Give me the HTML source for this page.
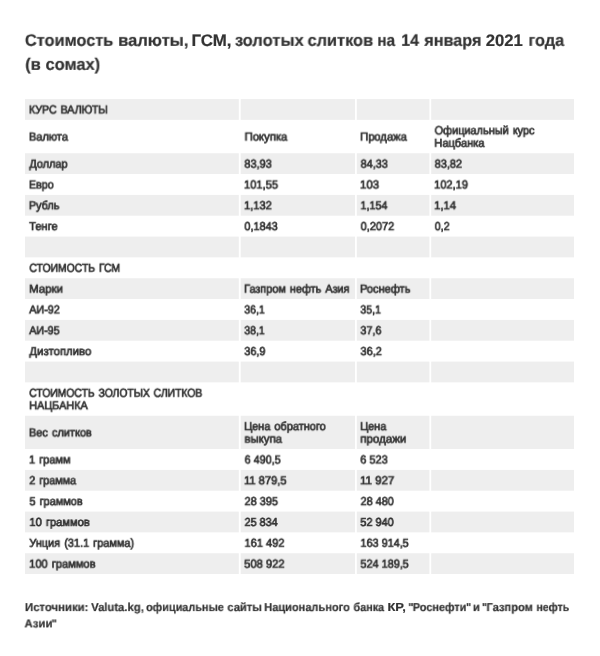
<!DOCTYPE html>
<html lang="ru"><head><meta charset="utf-8"><title>Стоимость валюты, ГСМ, золотых слитков</title>
<style>
html,body{margin:0;padding:0;background:#fff;}
body{width:600px;height:656px;position:relative;overflow:hidden;font-family:"Liberation Sans",sans-serif;color:#333;}
.bg{position:absolute;left:0;top:0;}
.t,.h,.f{position:absolute;left:0;top:0;white-space:nowrap;transform-origin:0 50%;will-change:transform;color:#333;text-rendering:geometricPrecision;}
.t{font-size:11.67px;line-height:12.5px;word-spacing:1.1px;-webkit-text-stroke:0.7px #333;}
.n{word-spacing:0px;}
.h{font-size:16.67px;line-height:20px;font-weight:bold;-webkit-text-stroke:0.2px #333;}
.f{font-size:11.67px;line-height:14px;font-weight:bold;-webkit-text-stroke:0.2px #333;}
</style></head><body>
<svg class="bg" width="600" height="656" viewBox="0 0 600 656"><g fill="#eeeeee"><rect x="25.00" y="99.10" width="213.80" height="20.78"/><rect x="240.70" y="99.10" width="114.30" height="20.78"/><rect x="356.80" y="99.10" width="72.60" height="20.78"/><rect x="431.20" y="99.10" width="142.80" height="20.78"/><rect x="25.00" y="153.27" width="213.80" height="20.78"/><rect x="240.70" y="153.27" width="114.30" height="20.78"/><rect x="356.80" y="153.27" width="72.60" height="20.78"/><rect x="431.20" y="153.27" width="142.80" height="20.78"/><rect x="25.00" y="194.93" width="213.80" height="20.78"/><rect x="240.70" y="194.93" width="114.30" height="20.78"/><rect x="356.80" y="194.93" width="72.60" height="20.78"/><rect x="431.20" y="194.93" width="142.80" height="20.78"/><rect x="25.00" y="236.60" width="213.80" height="20.78"/><rect x="240.70" y="236.60" width="114.30" height="20.78"/><rect x="356.80" y="236.60" width="72.60" height="20.78"/><rect x="431.20" y="236.60" width="142.80" height="20.78"/><rect x="25.00" y="278.27" width="213.80" height="20.78"/><rect x="240.70" y="278.27" width="114.30" height="20.78"/><rect x="356.80" y="278.27" width="72.60" height="20.78"/><rect x="431.20" y="278.27" width="142.80" height="20.78"/><rect x="25.00" y="319.93" width="213.80" height="20.78"/><rect x="240.70" y="319.93" width="114.30" height="20.78"/><rect x="356.80" y="319.93" width="72.60" height="20.78"/><rect x="431.20" y="319.93" width="142.80" height="20.78"/><rect x="25.00" y="361.60" width="213.80" height="20.78"/><rect x="240.70" y="361.60" width="114.30" height="20.78"/><rect x="356.80" y="361.60" width="72.60" height="20.78"/><rect x="431.20" y="361.60" width="142.80" height="20.78"/><rect x="25.00" y="415.77" width="213.80" height="33.28"/><rect x="240.70" y="415.77" width="114.30" height="33.28"/><rect x="356.80" y="415.77" width="72.60" height="33.28"/><rect x="431.20" y="415.77" width="142.80" height="33.28"/><rect x="25.00" y="469.93" width="213.80" height="20.78"/><rect x="240.70" y="469.93" width="114.30" height="20.78"/><rect x="356.80" y="469.93" width="72.60" height="20.78"/><rect x="431.20" y="469.93" width="142.80" height="20.78"/><rect x="25.00" y="511.60" width="213.80" height="20.78"/><rect x="240.70" y="511.60" width="114.30" height="20.78"/><rect x="356.80" y="511.60" width="72.60" height="20.78"/><rect x="431.20" y="511.60" width="142.80" height="20.78"/><rect x="25.00" y="553.27" width="213.80" height="20.78"/><rect x="240.70" y="553.27" width="114.30" height="20.78"/><rect x="356.80" y="553.27" width="72.60" height="20.78"/><rect x="431.20" y="553.27" width="142.80" height="20.78"/></g></svg>
<div class="t" style="transform:translate(28.90px,104.47px) scaleX(0.9126)">КУРС ВАЛЮТЫ</div>
<div class="t" style="transform:translate(28.92px,131.55px) scaleX(0.9453)">Валюта</div>
<div class="t" style="transform:translate(29.37px,158.63px) scaleX(0.9359)">Доллар</div>
<div class="t" style="transform:translate(28.94px,179.47px) scaleX(0.9160)">Евро</div>
<div class="t" style="transform:translate(28.87px,200.30px) scaleX(0.9291)">Рубль</div>
<div class="t" style="transform:translate(29.15px,221.13px) scaleX(0.9480)">Тенге</div>
<div class="t" style="transform:translate(29.38px,262.80px) scaleX(0.8918)">СТОИМОСТЬ ГСМ</div>
<div class="t" style="transform:translate(29.14px,283.63px) scaleX(0.9804)">Марки</div>
<div class="t" style="transform:translate(29.22px,304.47px) scaleX(0.9263)">АИ-92</div>
<div class="t" style="transform:translate(29.24px,325.30px) scaleX(0.9193)">АИ-95</div>
<div class="t" style="transform:translate(29.36px,346.13px) scaleX(0.9718)">Дизтопливо</div>
<div class="t" style="transform:translate(29.23px,387.80px) scaleX(0.8882)">СТОИМОСТЬ ЗОЛОТЫХ СЛИТКОВ</div>
<div class="t" style="transform:translate(29.19px,400.30px) scaleX(0.9286)">НАЦБАНКА</div>
<div class="t" style="transform:translate(28.96px,427.38px) scaleX(0.9407)">Вес слитков</div>
<div class="t" style="transform:translate(29.02px,454.47px) scaleX(0.9426)">1 грамм</div>
<div class="t" style="transform:translate(29.32px,475.30px) scaleX(0.9256)">2 грамма</div>
<div class="t" style="transform:translate(29.49px,496.13px) scaleX(0.9377)">5 граммов</div>
<div class="t" style="transform:translate(29.40px,516.97px) scaleX(0.9544)">10 граммов</div>
<div class="t" style="transform:translate(29.29px,537.80px) scaleX(0.9388)">Унция (31.1 грамма)</div>
<div class="t" style="transform:translate(29.13px,558.63px) scaleX(0.9527)">100 граммов</div>
<div class="t" style="transform:translate(244.56px,131.55px) scaleX(0.9712)">Покупка</div>
<div class="t n" style="transform:translate(244.41px,158.63px) scaleX(0.9333)">83,93</div>
<div class="t n" style="transform:translate(243.98px,179.47px) scaleX(0.9535)">101,55</div>
<div class="t n" style="transform:translate(244.10px,200.30px) scaleX(0.9463)">1,132</div>
<div class="t n" style="transform:translate(244.44px,221.13px) scaleX(0.9308)">0,1843</div>
<div class="t" style="transform:translate(244.11px,283.63px) scaleX(0.9333)">Газпром нефть Азия</div>
<div class="t n" style="transform:translate(244.29px,304.47px) scaleX(0.8989)">36,1</div>
<div class="t n" style="transform:translate(244.33px,325.30px) scaleX(0.8942)">38,1</div>
<div class="t n" style="transform:translate(244.35px,346.13px) scaleX(0.9254)">36,9</div>
<div class="t" style="transform:translate(244.14px,421.13px) scaleX(0.9373)">Цена обратного</div>
<div class="t" style="transform:translate(244.52px,433.63px) scaleX(0.9717)">выкупа</div>
<div class="t n" style="transform:translate(244.63px,454.47px) scaleX(0.9245)">6 490,5</div>
<div class="t n" style="transform:translate(244.05px,475.30px) scaleX(0.9560)">11 879,5</div>
<div class="t n" style="transform:translate(244.56px,496.13px) scaleX(0.9339)">28 395</div>
<div class="t n" style="transform:translate(244.58px,516.97px) scaleX(0.9236)">25 834</div>
<div class="t n" style="transform:translate(244.52px,537.80px) scaleX(0.9452)">161 492</div>
<div class="t n" style="transform:translate(244.19px,558.63px) scaleX(0.9552)">508 922</div>
<div class="t" style="transform:translate(360.12px,131.55px) scaleX(0.9604)">Продажа</div>
<div class="t n" style="transform:translate(360.65px,158.63px) scaleX(0.9270)">84,33</div>
<div class="t n" style="transform:translate(359.94px,179.47px) scaleX(0.9808)">103</div>
<div class="t n" style="transform:translate(360.50px,200.30px) scaleX(0.9233)">1,154</div>
<div class="t n" style="transform:translate(360.67px,221.13px) scaleX(0.9385)">0,2072</div>
<div class="t" style="transform:translate(360.02px,283.63px) scaleX(0.9466)">Роснефть</div>
<div class="t n" style="transform:translate(360.36px,304.47px) scaleX(0.9027)">35,1</div>
<div class="t n" style="transform:translate(360.41px,325.30px) scaleX(0.9241)">37,6</div>
<div class="t n" style="transform:translate(360.50px,346.13px) scaleX(0.9377)">36,2</div>
<div class="t" style="transform:translate(360.17px,421.13px) scaleX(0.9344)">Цена</div>
<div class="t" style="transform:translate(360.30px,433.63px) scaleX(0.9889)">продажи</div>
<div class="t n" style="transform:translate(360.28px,454.47px) scaleX(0.9383)">6 523</div>
<div class="t n" style="transform:translate(360.06px,475.30px) scaleX(0.9854)">11 927</div>
<div class="t n" style="transform:translate(360.58px,496.13px) scaleX(0.9290)">28 480</div>
<div class="t n" style="transform:translate(360.34px,516.97px) scaleX(0.9348)">52 940</div>
<div class="t n" style="transform:translate(360.47px,537.80px) scaleX(0.9303)">163 914,5</div>
<div class="t n" style="transform:translate(360.45px,558.63px) scaleX(0.9316)">524 189,5</div>
<div class="t" style="transform:translate(434.61px,125.30px) scaleX(0.9368)">Официальный курс</div>
<div class="t" style="transform:translate(434.29px,137.80px) scaleX(0.9511)">Нацбанка</div>
<div class="t n" style="transform:translate(434.68px,158.63px) scaleX(0.9333)">83,82</div>
<div class="t n" style="transform:translate(434.11px,179.47px) scaleX(0.9477)">102,19</div>
<div class="t n" style="transform:translate(434.22px,200.30px) scaleX(0.9570)">1,14</div>
<div class="t n" style="transform:translate(434.75px,221.13px) scaleX(0.9151)">0,2</div>
<div class="h" style="transform:translate(24.90px,30.85px) scaleX(0.9810)">Стоимость</div>
<div class="h" style="transform:translate(118.13px,30.85px) scaleX(0.9946)">валюты,</div>
<div class="h" style="transform:translate(191.45px,30.85px) scaleX(1.0121)">ГСМ,</div>
<div class="h" style="transform:translate(234.91px,30.85px) scaleX(0.9904)">золотых</div>
<div class="h" style="transform:translate(307.54px,30.85px) scaleX(0.9825)">слитков</div>
<div class="h" style="transform:translate(377.32px,30.85px) scaleX(0.9199)">на</div>
<div class="h" style="transform:translate(401.18px,30.85px) scaleX(0.9610)">14</div>
<div class="h" style="transform:translate(424.25px,30.85px) scaleX(0.9737)">января</div>
<div class="h" style="transform:translate(485.72px,30.85px) scaleX(1.0025)">2021</div>
<div class="h" style="transform:translate(528.41px,30.85px) scaleX(0.9780)">года</div>
<div class="h" style="transform:translate(25.20px,54.85px) scaleX(0.9884)">(в сомах)</div>
<div class="f" style="transform:translate(24.95px,601.10px) scaleX(0.9744)">Источники:</div>
<div class="f" style="transform:translate(91.15px,601.10px) scaleX(0.9683)">Valuta.kg,</div>
<div class="f" style="transform:translate(146.10px,601.10px) scaleX(0.9329)">официальные</div>
<div class="f" style="transform:translate(227.37px,601.10px) scaleX(0.9581)">сайты</div>
<div class="f" style="transform:translate(264.20px,601.10px) scaleX(0.9473)">Национального</div>
<div class="f" style="transform:translate(353.46px,601.10px) scaleX(0.9288)">банка</div>
<div class="f" style="transform:translate(387.45px,601.10px) scaleX(1.1100)">КР,</div>
<div class="f" style="transform:translate(408.40px,601.10px) scaleX(0.9200)">&quot;</div>
<div class="f" style="transform:translate(412.79px,601.10px) scaleX(0.9328)">Роснефти</div>
<div class="f" style="transform:translate(466.20px,601.10px) scaleX(0.8800)">&quot;</div>
<div class="f" style="transform:translate(472.90px,601.10px) scaleX(0.9684)">и</div>
<div class="f" style="transform:translate(482.00px,601.10px) scaleX(0.8800)">&quot;</div>
<div class="f" style="transform:translate(486.52px,601.10px) scaleX(0.9533)">Газпром</div>
<div class="f" style="transform:translate(536.45px,601.10px) scaleX(0.8986)">нефть</div>
<div class="f" style="transform:translate(24.48px,617.40px) scaleX(0.9772)">Азии</div>
<div class="f" style="transform:translate(51.60px,617.40px) scaleX(0.9500)">&quot;</div>
</body></html>
